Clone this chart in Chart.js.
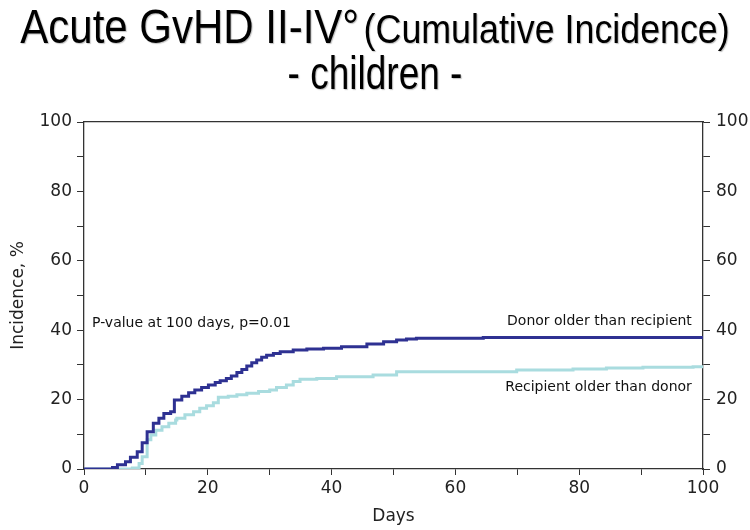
<!DOCTYPE html>
<html><head><meta charset="utf-8">
<script src="https://cdn.jsdelivr.net/npm/chart.js@4.4.1/dist/chart.umd.min.js"></script>
<style>
html,body{margin:0;padding:0;background:#fff;}
#wrap{position:relative;width:750px;height:530px;overflow:hidden;}
#c{position:absolute;left:0;top:0;}
.t{position:absolute;left:0;width:750px;text-align:center;white-space:nowrap;font-family:"Liberation Sans",Arial,sans-serif;color:#000;text-shadow:1px 1px 1px rgba(0,0,0,0.25);line-height:1;transform-origin:50% 0;}
#t1{top:2px;transform:scaleY(1.16);}
#t2{top:50px;transform:scaleY(1.26);}
.big{font-size:42px;}
.small{font-size:35.8px;}
.sub{font-size:37px;}
</style>
</head><body>
<div id="wrap">
<canvas id="c" width="750" height="530"></canvas>
<div class="t" id="t1"><span class="big">Acute GvHD II-IV°</span> <span class="small">(Cumulative Incidence)</span></div>
<div class="t" id="t2"><span class="sub">- children -</span></div>
</div>
<script>
// Series: Donor older than recipient (dark)
const daysDonorOlder = [0,4.6,5.4,6.7,7.5,8.6,9.4,10.2,11.2,12.1,12.9,14.0,14.6,15.8,16.9,17.9,19.0,20.1,21.2,22.0,23.0,23.8,24.7,25.5,26.3,27.1,27.9,28.7,29.5,30.6,31.7,33.8,36.0,38.7,41.6,45.7,48.4,50.5,52.1,53.7,64.5,100];
const incDonorOlder  = [0,0.4,1.2,2.1,3.4,5.0,7.6,10.7,13.2,14.6,16.0,16.5,19.9,21.0,22.0,22.8,23.5,24.2,24.9,25.4,26.1,26.8,27.8,28.7,29.7,30.6,31.4,32.2,32.8,33.3,33.8,34.3,34.6,34.8,35.2,36.0,36.7,37.2,37.5,37.7,37.9,37.9];
// Series: Recipient older than donor (light)
const daysRecipOlder = [0,7.8,8.9,9.4,10.2,10.8,11.6,12.6,13.7,14.8,15.0,16.3,17.7,18.7,19.8,20.9,21.7,23.3,24.7,26.3,28.2,30.0,31.1,32.7,33.8,34.9,37.6,40.8,46.7,50.5,69.9,79.0,84.4,90.3,98.4,100];
const incRecipOlder  = [0,0.3,1.6,3.5,8.4,9.8,11.2,12.2,13.2,14.1,14.6,15.6,16.5,17.5,18.2,19.1,20.7,21.0,21.4,21.8,22.3,22.8,23.5,24.2,25.2,25.9,26.1,26.6,27.1,28.0,28.5,28.8,29.1,29.3,29.5,29.5];

const seriesNames = ["Donor older than recipient","Recipient older than donor"];
const pValueText = "P-value at 100 days, p=0.01";
const xLabel = "Days";
const yLabel = "Incidence, %";

const toPts = (xs, ys) => xs.map((x,i)=>({x:x,y:ys[i]}));
const tickFont = {family:"'DejaVu Sans', Verdana, sans-serif", size:17};
const axisColor = '#333';
const labelEvery20 = v => (v % 20 === 0 ? String(v) : '');

const annot = {
  id:'annot',
  afterDatasetsDraw(chart){
    const {ctx, scales:{x,y}} = chart;
    ctx.save();
    ctx.fillStyle = '#111';
    ctx.font = "14px 'DejaVu Sans', Verdana, sans-serif";
    ctx.textBaseline = 'middle';
    ctx.textAlign = 'left';
    ctx.fillText(pValueText, x.getPixelForValue(1.3), y.getPixelForValue(42));
    ctx.textAlign = 'right';
    ctx.fillText(seriesNames[0], x.getPixelForValue(98.2), y.getPixelForValue(42.6));
    ctx.fillText(seriesNames[1], x.getPixelForValue(98.2), y.getPixelForValue(23.6));
    ctx.restore();
  }
};

new Chart(document.getElementById('c'), {
  type:'line',
  data:{datasets:[
    {label:seriesNames[0], data:toPts(daysDonorOlder,incDonorOlder), borderColor:'#2e3192', borderWidth:3, stepped:true, pointRadius:0, fill:false},
    {label:seriesNames[1], data:toPts(daysRecipOlder,incRecipOlder), borderColor:'#a9dcdf', borderWidth:3, stepped:true, pointRadius:0, fill:false}
  ]},
  options:{
    responsive:false, animation:false, devicePixelRatio:1,
    layout:{padding:{top:122,left:0,right:0,bottom:0}},
    plugins:{legend:{display:false}, tooltip:{enabled:false}, title:{display:false}},
    scales:{
      x:{type:'linear', position:'bottom', min:0, max:100,
         ticks:{stepSize:10, autoSkip:false, maxRotation:0, callback:labelEvery20, font:tickFont, color:'#222', padding:3},
         grid:{drawOnChartArea:false, drawTicks:true, tickLength:6, color:axisColor},
         border:{display:true, color:axisColor, width:1.3},
         title:{display:true, text:xLabel, font:{family:"'DejaVu Sans', Verdana, sans-serif", size:17}, color:'#222', padding:{top:0,bottom:3}},
         afterFit(s){ s.height = 61; }},
      xTop:{type:'linear', position:'top', min:0, max:100,
         ticks:{display:false}, grid:{display:false},
         border:{display:true, color:axisColor, width:1.3},
         afterFit(s){ s.height = 0; }},
      y:{type:'linear', position:'left', min:0, max:100,
         ticks:{stepSize:10, autoSkip:false, callback:labelEvery20, font:tickFont, color:'#222', padding:5},
         grid:{drawOnChartArea:false, drawTicks:true, tickLength:7, color:axisColor},
         border:{display:true, color:axisColor, width:1.3},
         title:{display:true, text:yLabel, font:{family:"'DejaVu Sans', Verdana, sans-serif", size:17}, color:'#222', padding:{top:8,bottom:0}},
         afterFit(s){ s.width = 84; }},
      y2:{type:'linear', position:'right', min:0, max:100,
         ticks:{stepSize:10, autoSkip:false, callback:labelEvery20, font:tickFont, color:'#222', padding:6},
         grid:{drawOnChartArea:false, drawTicks:true, tickLength:7, color:axisColor},
         border:{display:true, color:axisColor, width:1.3},
         afterFit(s){ s.width = 47; }}
    }
  },
  plugins:[annot]
});
</script>
</body></html>
